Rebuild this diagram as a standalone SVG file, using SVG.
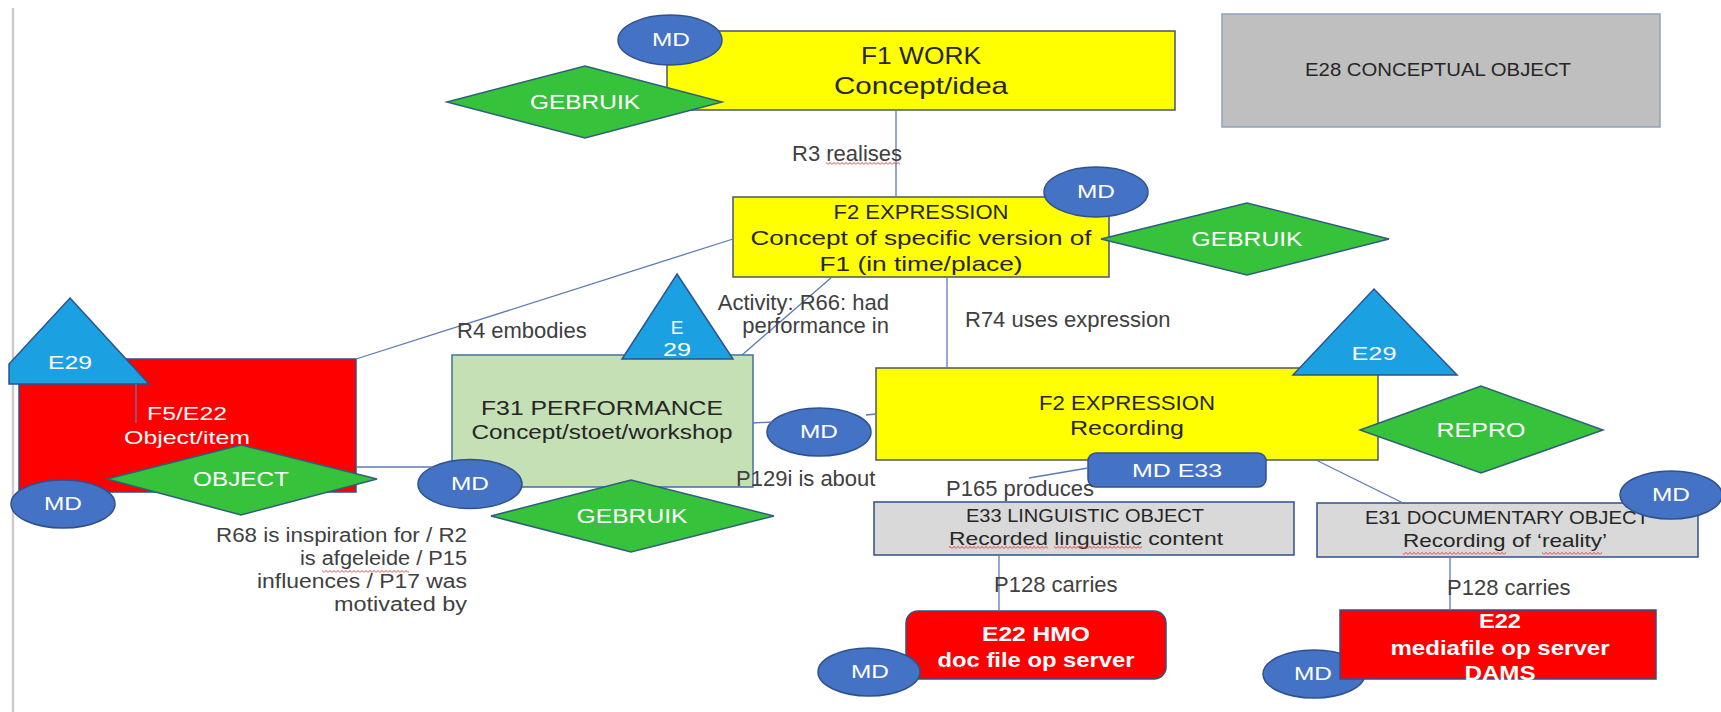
<svg xmlns="http://www.w3.org/2000/svg" width="1721" height="712" viewBox="0 0 1721 712">
<defs>
<pattern id="sq" width="4" height="3" patternUnits="userSpaceOnUse"><path d="M0,2.6 L2,0.4 L4,2.6" fill="none" stroke="#e8302c" stroke-width="0.9"/></pattern>
<style>
.t{font-family:"Liberation Sans",Arial,sans-serif;dominant-baseline:central}
.lbl{font-size:22px;fill:#404040}
.sm{font-size:20px}
.end{text-anchor:end}
.dk{fill:#262626;text-anchor:middle}
.wh{fill:#ffffff;text-anchor:middle}
.b{font-weight:bold}
.md{fill:#4472C4;stroke:#2F528F;stroke-width:1.5}
.dia{fill:#36C23A;stroke:#2F5F7A;stroke-width:1.5}
.tri{fill:#1BA1E2;stroke:#2F528F;stroke-width:1.5}
.yel{fill:#FFFF00;stroke:#4A5568;stroke-width:1.5}
.red{fill:#FF0000;stroke:#2F528F;stroke-width:1.5}
.gry{fill:#D9D9D9;stroke:#2F528F;stroke-width:1.5}
.grn{fill:#C5E0B4;stroke:#41719C;stroke-width:1.5}
.con line{stroke:#5B7BB5;stroke-width:1.3}
</style>
</defs>
<rect width="1721" height="712" fill="#ffffff"/>
<line x1="13" y1="8" x2="13" y2="712" stroke="#cccccc" stroke-width="2.5"/>

<g id="f1-work">
<rect class="yel" x="667" y="31" width="508" height="79"/>
<text class="t dk" x="921" y="55" font-size="24" textLength="120" lengthAdjust="spacingAndGlyphs">F1 WORK</text>
<text class="t dk" x="921" y="85" font-size="24" textLength="174" lengthAdjust="spacingAndGlyphs">Concept/idea</text>
</g>
<g id="md-f1">
<ellipse class="md" cx="670" cy="40" rx="52" ry="25"/>
<text class="t wh" x="671" y="39" font-size="19" textLength="38" lengthAdjust="spacingAndGlyphs">MD</text>
</g>
<g id="gebruik-f1">
<polygon class="dia" points="447,102 585,66 722,102 585,138"/>
<text class="t wh" x="585" y="102" font-size="20" textLength="110" lengthAdjust="spacingAndGlyphs">GEBRUIK</text>
</g>

<g id="e28">
<rect x="1222" y="14" width="438" height="113" fill="#BFBFBF" stroke="#8FA2BD" stroke-width="1.5"/>
<text class="t dk" x="1438" y="69" font-size="19" textLength="266" lengthAdjust="spacingAndGlyphs">E28 CONCEPTUAL OBJECT</text>
</g>

<g id="f2-expression">
<rect class="yel" x="733" y="197" width="376" height="80"/>
<text class="t dk" x="921" y="211" font-size="21" textLength="175" lengthAdjust="spacingAndGlyphs">F2 EXPRESSION</text>
<text class="t dk" x="921" y="237" font-size="21" textLength="341" lengthAdjust="spacingAndGlyphs">Concept of specific version of</text>
<text class="t dk" x="921" y="263" font-size="21" textLength="203" lengthAdjust="spacingAndGlyphs">F1 (in time/place)</text>
</g>
<g id="md-f2">
<ellipse class="md" cx="1096" cy="192" rx="52" ry="25"/>
<text class="t wh" x="1096" y="191" font-size="19" textLength="38" lengthAdjust="spacingAndGlyphs">MD</text>
</g>
<g id="gebruik-f2">
<polygon class="dia" points="1101,239 1247,203 1389,239 1247,275"/>
<text class="t wh" x="1247" y="239" font-size="20" textLength="111" lengthAdjust="spacingAndGlyphs">GEBRUIK</text>
</g>

<g id="f5-e22">
<rect class="red" x="19" y="359" width="337" height="133"/>
<text class="t wh" x="187" y="413" font-size="19" textLength="80" lengthAdjust="spacingAndGlyphs">F5/E22</text>
<text class="t wh" x="187" y="437" font-size="19" textLength="126" lengthAdjust="spacingAndGlyphs">Object/item</text>
</g>
<g id="e29-left">
<polygon class="tri" points="70,298 149,384 9,384 9,364"/>
<text class="t wh" x="70" y="362" font-size="19" textLength="44" lengthAdjust="spacingAndGlyphs">E29</text>
</g>
<g id="object">
<polygon class="dia" points="107,479 241,445 377,479 241,515"/>
<text class="t wh" x="241" y="479" font-size="20" textLength="96" lengthAdjust="spacingAndGlyphs">OBJECT</text>
</g>
<g id="md-f5">
<ellipse class="md" cx="63" cy="504" rx="52" ry="24"/>
<text class="t wh" x="63" y="503" font-size="19" textLength="38" lengthAdjust="spacingAndGlyphs">MD</text>
</g>

<g id="f31-performance">
<rect class="grn" x="452" y="355" width="301" height="132"/>
<text class="t dk" x="602" y="408" font-size="20" textLength="242" lengthAdjust="spacingAndGlyphs">F31 PERFORMANCE</text>
<text class="t dk" x="602" y="432" font-size="20" textLength="261" lengthAdjust="spacingAndGlyphs">Concept/stoet/workshop</text>
</g>
<g id="e29-mid">
<polygon class="tri" points="677,274 733,359 622,359"/>
<text class="t wh" x="677" y="327" font-size="19">E</text>
<text class="t wh" x="677" y="349" font-size="19" textLength="28" lengthAdjust="spacingAndGlyphs">29</text>
</g>
<g id="gebruik-f31">
<polygon class="dia" points="491,516 631,480 774,516 631,552"/>
<text class="t wh" x="632" y="516" font-size="20" textLength="111" lengthAdjust="spacingAndGlyphs">GEBRUIK</text>
</g>
<g id="md-f31">
<ellipse class="md" cx="470" cy="484" rx="52" ry="24.5"/>
<text class="t wh" x="470" y="483" font-size="19" textLength="38" lengthAdjust="spacingAndGlyphs">MD</text>
</g>

<g id="f2-recording">
<rect class="yel" x="876" y="368" width="502" height="92"/>
<text class="t dk" x="1127" y="402" font-size="21" textLength="176" lengthAdjust="spacingAndGlyphs">F2 EXPRESSION</text>
<text class="t dk" x="1127" y="427" font-size="21" textLength="114" lengthAdjust="spacingAndGlyphs">Recording</text>
</g>
<g id="md-rec">
<ellipse class="md" cx="819" cy="432" rx="52" ry="24"/>
<text class="t wh" x="819" y="431" font-size="19" textLength="38" lengthAdjust="spacingAndGlyphs">MD</text>
</g>
<g id="e29-right">
<polygon class="tri" points="1374,289 1457,375 1293,375"/>
<text class="t wh" x="1374" y="353" font-size="19" textLength="45" lengthAdjust="spacingAndGlyphs">E29</text>
</g>
<g id="repro">
<polygon class="dia" points="1360,430 1481,386 1603,430 1481,473"/>
<text class="t wh" x="1481" y="430" font-size="20" textLength="89" lengthAdjust="spacingAndGlyphs">REPRO</text>
</g>
<g id="md-e33">
<rect x="1088" y="453" width="178" height="34" rx="8" fill="#4472C4" stroke="#2F528F" stroke-width="1.5"/>
<text class="t wh" x="1177" y="470" font-size="19" textLength="90" lengthAdjust="spacingAndGlyphs">MD E33</text>
</g>

<g id="e33">
<rect class="gry" x="874" y="502" width="420" height="53"/>
<text class="t dk" x="1085" y="515" font-size="19" textLength="238" lengthAdjust="spacingAndGlyphs">E33 LINGUISTIC OBJECT</text>
<text class="t dk" x="1086" y="538" font-size="19" textLength="274" lengthAdjust="spacingAndGlyphs">Recorded linguistic content</text>
</g>
<g id="e31">
<rect class="gry" x="1317" y="503" width="381" height="54"/>
<text class="t dk" x="1507" y="517" font-size="19" textLength="284" lengthAdjust="spacingAndGlyphs">E31 DOCUMENTARY OBJECT</text>
<text class="t dk" x="1505" y="540" font-size="19" textLength="204" lengthAdjust="spacingAndGlyphs">Recording of ‘reality’</text>
</g>
<g id="md-e31">
<ellipse class="md" cx="1671" cy="495" rx="51" ry="24"/>
<text class="t wh" x="1671" y="494" font-size="19" textLength="38" lengthAdjust="spacingAndGlyphs">MD</text>
</g>

<g id="e22-hmo">
<rect class="red" x="906" y="611" width="260" height="68" rx="12"/>
<text class="t wh b" x="1036" y="633" font-size="21" textLength="108" lengthAdjust="spacingAndGlyphs">E22 HMO</text>
<text class="t wh b" x="1036" y="659" font-size="21" textLength="197" lengthAdjust="spacingAndGlyphs">doc file op server</text>
</g>
<g id="md-hmo">
<ellipse class="md" cx="869" cy="672" rx="51" ry="24"/>
<text class="t wh" x="870" y="671" font-size="19" textLength="38" lengthAdjust="spacingAndGlyphs">MD</text>
</g>

<g id="md-dams">
<ellipse class="md" cx="1314" cy="674" rx="51" ry="24"/>
<text class="t wh" x="1313" y="673" font-size="19" textLength="38" lengthAdjust="spacingAndGlyphs">MD</text>
</g>
<g id="e22-dams">
<rect class="red" x="1340" y="610" width="316" height="69"/>
<text class="t wh b" x="1500" y="620" font-size="21" textLength="42" lengthAdjust="spacingAndGlyphs">E22</text>
<text class="t wh b" x="1500" y="647" font-size="21" textLength="219" lengthAdjust="spacingAndGlyphs">mediafile op server</text>
<text class="t wh b" x="1500" y="672" font-size="21" textLength="71" lengthAdjust="spacingAndGlyphs">DAMS</text>
</g>

<g id="connectors" class="con">
<line x1="896" y1="110" x2="896" y2="197"/>
<line x1="356" y1="359" x2="733" y2="239"/>
<line x1="742" y1="355" x2="832" y2="277"/>
<line x1="947" y1="277" x2="947" y2="368"/>
<line x1="753" y1="423" x2="772" y2="422"/>
<line x1="866" y1="415" x2="876" y2="414"/>
<line x1="356" y1="467" x2="432" y2="467"/>
<line x1="1029" y1="478" x2="1088" y2="468"/>
<line x1="999" y1="555" x2="999" y2="611"/>
<line x1="1316" y1="460" x2="1403" y2="503"/>
<line x1="1450" y1="557" x2="1450" y2="610"/>
<line x1="136" y1="384" x2="136" y2="423"/>
</g>

<g id="labels">
<text class="t lbl" x="792" y="153">R3 realises</text>
<text class="t lbl" x="457" y="330">R4 embodies</text>
<text class="t lbl end" x="889" y="302">Activity: R66: had</text>
<text class="t lbl end" x="889" y="325">performance in</text>
<text class="t lbl" x="965" y="319">R74 uses expression</text>
<text class="t lbl" x="736" y="478">P129i is about</text>
<text class="t lbl" x="946" y="488">P165 produces</text>
<text class="t lbl sm end" x="467" y="535" textLength="251" lengthAdjust="spacingAndGlyphs">R68 is inspiration for / R2</text>
<text class="t lbl sm end" x="467" y="558" textLength="167" lengthAdjust="spacingAndGlyphs">is afgeleide / P15</text>
<text class="t lbl sm end" x="467" y="581" textLength="210" lengthAdjust="spacingAndGlyphs">influences / P17 was</text>
<text class="t lbl sm end" x="467" y="604" textLength="133" lengthAdjust="spacingAndGlyphs">motivated by</text>
<text class="t lbl" x="994" y="584">P128 carries</text>
<text class="t lbl" x="1447" y="587">P128 carries</text>
</g>

<g id="spelling">
<rect x="826" y="162" width="74" height="3" fill="url(#sq)"/>
<rect x="322" y="570" width="87" height="3" fill="url(#sq)"/>
<rect x="949" y="546" width="99" height="3" fill="url(#sq)"/>
<rect x="1054" y="546" width="88" height="3" fill="url(#sq)"/>
<rect x="1403" y="552" width="103" height="3" fill="url(#sq)"/>
<rect x="1542" y="552" width="60" height="3" fill="url(#sq)"/>
<rect x="937" y="666" width="42" height="3" fill="url(#sq)"/>
</g>
</svg>
